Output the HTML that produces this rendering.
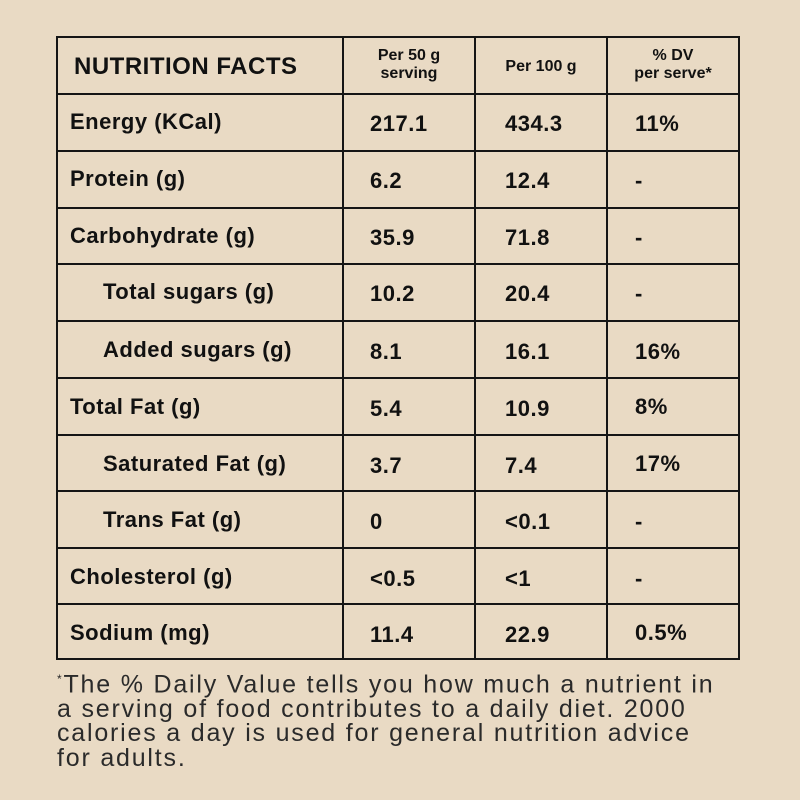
<!DOCTYPE html>
<html><head><style>
body{margin:0;width:800px;height:800px;background:#e9dac4;position:relative;overflow:hidden;font-family:"Liberation Sans",sans-serif;color:#111}
.b{position:absolute;background:#151515}
.t{position:absolute;font-size:22px;font-weight:bold;white-space:nowrap;line-height:1;letter-spacing:0.5px}
.h{position:absolute;font-size:16px;font-weight:bold;text-align:center;line-height:18px}
.f{position:absolute;left:57px;top:667px;font-size:25px;line-height:24.5px;color:#2a2a2a;white-space:nowrap;letter-spacing:1.8px}
</style></head><body>
<div class="b" style="left:56px;top:36px;width:684px;height:2px"></div>
<div class="b" style="left:56px;top:36px;width:2px;height:624px"></div>
<div class="b" style="left:738px;top:36px;width:2px;height:624px"></div>
<div class="b" style="left:342px;top:36px;width:2px;height:624px"></div>
<div class="b" style="left:474px;top:36px;width:2px;height:624px"></div>
<div class="b" style="left:606px;top:36px;width:2px;height:624px"></div>
<div class="b" style="left:56px;top:93px;width:684px;height:2px"></div>
<div class="b" style="left:56px;top:150px;width:684px;height:2px"></div>
<div class="b" style="left:56px;top:207px;width:684px;height:2px"></div>
<div class="b" style="left:56px;top:263px;width:684px;height:2px"></div>
<div class="b" style="left:56px;top:320px;width:684px;height:2px"></div>
<div class="b" style="left:56px;top:377px;width:684px;height:2px"></div>
<div class="b" style="left:56px;top:434px;width:684px;height:2px"></div>
<div class="b" style="left:56px;top:490px;width:684px;height:2px"></div>
<div class="b" style="left:56px;top:547px;width:684px;height:2px"></div>
<div class="b" style="left:56px;top:603px;width:684px;height:2px"></div>
<div class="b" style="left:56px;top:658px;width:684px;height:2px"></div>

<div class="t" style="left:74px;top:55px;font-size:24px;font-weight:900">NUTRITION FACTS</div>
<div class="h" style="left:344px;top:47px;width:130px">Per 50 g<br>serving</div>
<div class="h" style="left:476px;top:58px;width:130px">Per 100 g</div>
<div class="h" style="left:608px;top:47px;width:130px">% DV<br>per serve*</div>

<div class="t" style="left:70px;top:111px">Energy (KCal)</div><div class="t" style="left:370px;top:113px">217.1</div><div class="t" style="left:505px;top:113px">434.3</div><div class="t" style="left:635px;top:113px">11%</div>
<div class="t" style="left:70px;top:168px">Protein (g)</div><div class="t" style="left:370px;top:170px">6.2</div><div class="t" style="left:505px;top:170px">12.4</div><div class="t" style="left:635px;top:170px">-</div>
<div class="t" style="left:70px;top:225px">Carbohydrate (g)</div><div class="t" style="left:370px;top:227px">35.9</div><div class="t" style="left:505px;top:227px">71.8</div><div class="t" style="left:635px;top:227px">-</div>
<div class="t" style="left:103px;top:281px">Total sugars (g)</div><div class="t" style="left:370px;top:283px">10.2</div><div class="t" style="left:505px;top:283px">20.4</div><div class="t" style="left:635px;top:283px">-</div>
<div class="t" style="left:103px;top:339px">Added sugars (g)</div><div class="t" style="left:370px;top:341px">8.1</div><div class="t" style="left:505px;top:341px">16.1</div><div class="t" style="left:635px;top:341px">16%</div>
<div class="t" style="left:70px;top:396px">Total Fat (g)</div><div class="t" style="left:370px;top:398px">5.4</div><div class="t" style="left:505px;top:398px">10.9</div><div class="t" style="left:635px;top:396px">8%</div>
<div class="t" style="left:103px;top:453px">Saturated Fat (g)</div><div class="t" style="left:370px;top:455px">3.7</div><div class="t" style="left:505px;top:455px">7.4</div><div class="t" style="left:635px;top:453px">17%</div>
<div class="t" style="left:103px;top:509px">Trans Fat (g)</div><div class="t" style="left:370px;top:511px">0</div><div class="t" style="left:505px;top:511px">&lt;0.1</div><div class="t" style="left:635px;top:511px">-</div>
<div class="t" style="left:70px;top:566px">Cholesterol (g)</div><div class="t" style="left:370px;top:568px">&lt;0.5</div><div class="t" style="left:505px;top:568px">&lt;1</div><div class="t" style="left:635px;top:568px">-</div>
<div class="t" style="left:70px;top:622px">Sodium (mg)</div><div class="t" style="left:370px;top:624px">11.4</div><div class="t" style="left:505px;top:624px">22.9</div><div class="t" style="left:635px;top:622px">0.5%</div>

<div class="f"><sup style="font-size:12px">*</sup>The % Daily Value tells you how much a nutrient in<br>a serving of food contributes to a daily diet. 2000<br>calories a day is used for general nutrition advice<br>for adults.</div>
</body></html>
